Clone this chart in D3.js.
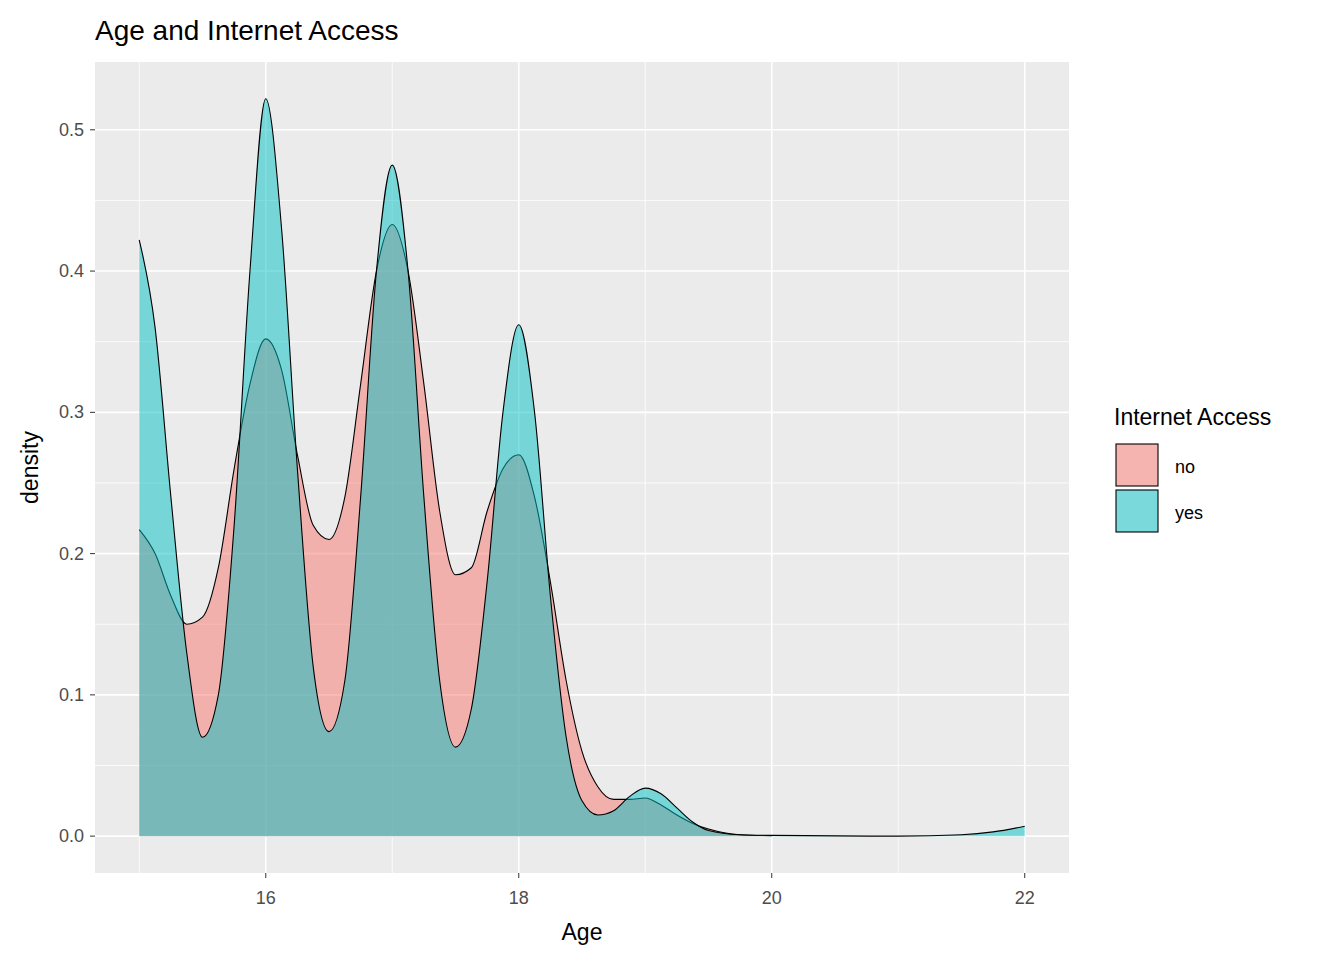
<!DOCTYPE html>
<html><head><meta charset="utf-8">
<script src="https://cdn.jsdelivr.net/npm/d3@7"></script>
<style>body{margin:0;background:#fff}text{font-family:Arial,"Liberation Sans",sans-serif}</style>
</head><body>
<svg id="chart" width="1344" height="960"></svg>
<script>
// density estimates
var ageNo  = [15,15.125,15.25,15.375,15.5,15.625,15.75,15.875,16,16.125,16.25,16.375,16.5,16.625,16.75,16.875,17,17.125,17.25,17.375,17.5,17.625,17.75,17.875,18,18.125,18.25,18.375,18.5,18.625,18.75,18.875,19,19.125,19.25,19.375,19.5,19.75,20];
var densNo = [0.217,0.20,0.17,0.15,0.155,0.19,0.26,0.32,0.352,0.33,0.27,0.22,0.21,0.24,0.32,0.40,0.433,0.40,0.32,0.23,0.185,0.19,0.23,0.26,0.27,0.24,0.18,0.11,0.06,0.035,0.026,0.026,0.027,0.022,0.015,0.009,0.005,0.001,0.0003];
var ageYes  = [15,15.125,15.25,15.375,15.5,15.625,15.75,15.875,16,16.125,16.25,16.375,16.5,16.625,16.75,16.875,17,17.125,17.25,17.375,17.5,17.625,17.75,17.875,18,18.125,18.25,18.375,18.5,18.625,18.75,18.875,19,19.125,19.25,19.375,19.5,19.75,20,21,21.5,21.75,22];
var densYes = [0.422,0.36,0.24,0.13,0.07,0.10,0.22,0.40,0.522,0.43,0.26,0.12,0.074,0.11,0.24,0.40,0.475,0.40,0.24,0.11,0.063,0.09,0.18,0.30,0.362,0.30,0.17,0.07,0.025,0.015,0.018,0.028,0.034,0.030,0.020,0.010,0.004,0.001,0.0005,0,0.001,0.003,0.007];
var groups = ["no","yes"];
var colors = ["#F8766D","#00BFC4"];
var xTicks = [16,18,20,22], xMinor = [15,17,19,21];
var yTicks = [0,0.1,0.2,0.3,0.4,0.5], yMinor = [0.05,0.15,0.25,0.35,0.45];

var svg = d3.select("#chart");
var L = 95, R = 1069, T = 62, B = 873;
var x = d3.scaleLinear().domain([14.65,22.35]).range([L,R]);
var y = d3.scaleLinear().domain([-0.0261,0.548]).range([B,T]);

svg.append("rect").attr("x",L).attr("y",T).attr("width",R-L).attr("height",B-T).attr("fill","#EBEBEB");
var g = svg.append("g");
xMinor.forEach(v=>g.append("line").attr("x1",x(v)).attr("x2",x(v)).attr("y1",T).attr("y2",B).attr("stroke","#fff").attr("stroke-width",0.8));
yMinor.forEach(v=>g.append("line").attr("y1",y(v)).attr("y2",y(v)).attr("x1",L).attr("x2",R).attr("stroke","#fff").attr("stroke-width",0.8));
xTicks.forEach(v=>g.append("line").attr("x1",x(v)).attr("x2",x(v)).attr("y1",T).attr("y2",B).attr("stroke","#fff").attr("stroke-width",1.6));
yTicks.forEach(v=>g.append("line").attr("y1",y(v)).attr("y2",y(v)).attr("x1",L).attr("x2",R).attr("stroke","#fff").attr("stroke-width",1.6));

var series = [d3.zip(ageNo,densNo), d3.zip(ageYes,densYes)];
var area = d3.area().curve(d3.curveMonotoneX).x(d=>x(d[0])).y0(y(0)).y1(d=>y(d[1]));
var line = d3.line().curve(d3.curveMonotoneX).x(d=>x(d[0])).y(d=>y(d[1]));
series.forEach((s,i)=>{
  svg.append("path").attr("d",area(s)).attr("fill",colors[i]).attr("fill-opacity",0.5);
  svg.append("path").attr("d",line(s)).attr("fill","none").attr("stroke","#000").attr("stroke-width",1.1);
});

// axes
xTicks.forEach(v=>{
  svg.append("line").attr("x1",x(v)).attr("x2",x(v)).attr("y1",B).attr("y2",B+5).attr("stroke","#333");
  svg.append("text").attr("x",x(v)).attr("y",B+31).attr("text-anchor","middle").attr("font-size",18).attr("fill","#4D4D4D").text(v);
});
yTicks.forEach(v=>{
  svg.append("line").attr("x1",L-5).attr("x2",L).attr("y1",y(v)).attr("y2",y(v)).attr("stroke","#333");
  svg.append("text").attr("x",L-11).attr("y",y(v)+6).attr("text-anchor","end").attr("font-size",18).attr("fill","#4D4D4D").text(d3.format(".1f")(v));
});
svg.append("text").attr("x",(L+R)/2).attr("y",940).attr("text-anchor","middle").attr("font-size",23).text("Age");
svg.append("text").attr("transform","translate(38,"+((T+B)/2)+") rotate(-90)").attr("text-anchor","middle").attr("font-size",23).text("density");
svg.append("text").attr("x",95).attr("y",40).attr("font-size",28).text("Age and Internet Access");

// legend
svg.append("text").attr("x",1114).attr("y",425).attr("font-size",23).text("Internet Access");
groups.forEach((k,i)=>{
  var ky = 444 + i*46;
  svg.append("rect").attr("x",1116).attr("y",ky).attr("width",42).attr("height",42).attr("fill","#F2F2F2");
  svg.append("rect").attr("x",1116).attr("y",ky).attr("width",42).attr("height",42).attr("fill",colors[i]).attr("fill-opacity",0.5).attr("stroke","#000").attr("stroke-width",1.1);
  svg.append("text").attr("x",1175).attr("y",ky+29).attr("font-size",18).text(k);
});
</script>
</body></html>
